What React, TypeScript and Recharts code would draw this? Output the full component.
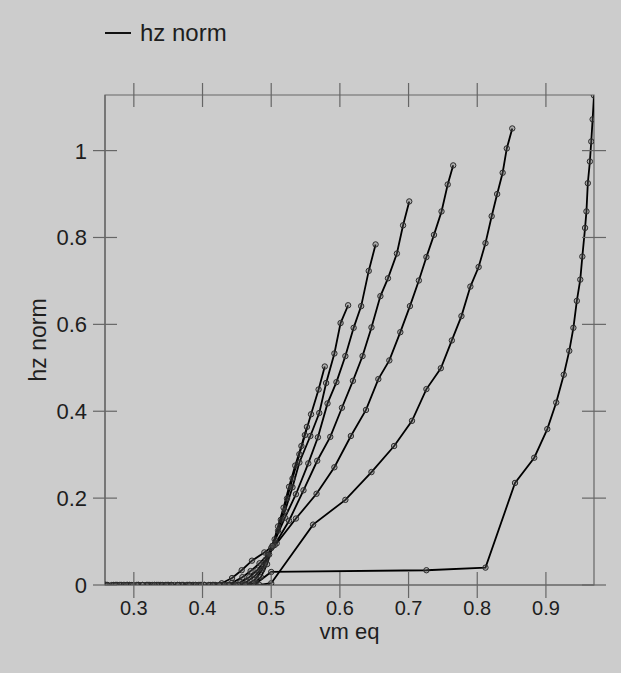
import React from 'react';
import { LineChart, Line, XAxis, YAxis, ReferenceArea } from 'recharts';

// ---------- data ----------
const xTicks = [0.3, 0.4, 0.5, 0.6, 0.7, 0.8, 0.9];
const yTicks = [0, 0.2, 0.4, 0.6, 0.8, 1];
const xDomain = [0.258, 0.97];
const yDomain = [0, 1.128];
const seriesName = 'hz norm';
const xLabel = 'vm eq';
const yLabel = 'hz norm';

const curveA = [
  { x: 0.258, y: 0 }, { x: 0.268, y: 0 }, { x: 0.281, y: 0 }, { x: 0.294, y: 0 }, { x: 0.307, y: 0 },
  { x: 0.32, y: 0 }, { x: 0.333, y: 0 }, { x: 0.346, y: 0 }, { x: 0.359, y: 0 }, { x: 0.372, y: 0 },
  { x: 0.385, y: 0 }, { x: 0.398, y: 0 }, { x: 0.418, y: 0 }, { x: 0.438, y: 0 }, { x: 0.458, y: 0 },
  { x: 0.478, y: 0.004 }, { x: 0.5, y: 0.03 }, { x: 0.726, y: 0.034 }, { x: 0.812, y: 0.04 },
  { x: 0.855, y: 0.235 }, { x: 0.883, y: 0.293 }, { x: 0.902, y: 0.359 }, { x: 0.915, y: 0.42 },
  { x: 0.926, y: 0.484 }, { x: 0.934, y: 0.539 }, { x: 0.94, y: 0.592 }, { x: 0.945, y: 0.654 },
  { x: 0.95, y: 0.703 }, { x: 0.953, y: 0.756 }, { x: 0.957, y: 0.822 }, { x: 0.959, y: 0.86 },
  { x: 0.961, y: 0.925 }, { x: 0.964, y: 0.975 }, { x: 0.966, y: 1.021 }, { x: 0.968, y: 1.072 },
  { x: 0.97, y: 1.127 },
];

const curveB = [
  { x: 0.259, y: 0 }, { x: 0.275, y: 0 }, { x: 0.291, y: 0 }, { x: 0.307, y: 0 }, { x: 0.323, y: 0 },
  { x: 0.339, y: 0 }, { x: 0.355, y: 0 }, { x: 0.371, y: 0 }, { x: 0.387, y: 0 }, { x: 0.403, y: 0 },
  { x: 0.419, y: 0 }, { x: 0.435, y: 0 }, { x: 0.451, y: 0 }, { x: 0.467, y: 0 }, { x: 0.483, y: 0 },
  { x: 0.5, y: 0.004 }, { x: 0.561, y: 0.139 }, { x: 0.608, y: 0.196 }, { x: 0.646, y: 0.26 },
  { x: 0.679, y: 0.32 }, { x: 0.705, y: 0.378 }, { x: 0.726, y: 0.451 }, { x: 0.747, y: 0.499 },
  { x: 0.763, y: 0.563 }, { x: 0.777, y: 0.619 }, { x: 0.79, y: 0.687 }, { x: 0.802, y: 0.732 },
  { x: 0.812, y: 0.787 }, { x: 0.821, y: 0.849 }, { x: 0.829, y: 0.9 }, { x: 0.837, y: 0.949 },
  { x: 0.843, y: 1.005 }, { x: 0.851, y: 1.051 },
];

const curveC = [
  { x: 0.258, y: 0 }, { x: 0.27, y: 0 }, { x: 0.282, y: 0 }, { x: 0.294, y: 0 }, { x: 0.306, y: 0 },
  { x: 0.318, y: 0 }, { x: 0.33, y: 0 }, { x: 0.342, y: 0 }, { x: 0.354, y: 0 }, { x: 0.366, y: 0 },
  { x: 0.378, y: 0 }, { x: 0.39, y: 0 }, { x: 0.402, y: 0 }, { x: 0.414, y: 0 },
  { x: 0.428, y: 0.004 }, { x: 0.443, y: 0.016 }, { x: 0.457, y: 0.034 }, { x: 0.472, y: 0.056 },
  { x: 0.49, y: 0.075 }, { x: 0.508, y: 0.096 }, { x: 0.536, y: 0.153 }, { x: 0.566, y: 0.21 },
  { x: 0.592, y: 0.271 }, { x: 0.616, y: 0.343 }, { x: 0.638, y: 0.403 }, { x: 0.656, y: 0.474 },
  { x: 0.672, y: 0.517 }, { x: 0.688, y: 0.582 }, { x: 0.702, y: 0.642 }, { x: 0.715, y: 0.701 },
  { x: 0.726, y: 0.755 }, { x: 0.737, y: 0.806 }, { x: 0.748, y: 0.86 }, { x: 0.757, y: 0.922 },
  { x: 0.765, y: 0.966 },
];

const curveD = [
  { x: 0.26, y: 0 }, { x: 0.273, y: 0 }, { x: 0.286, y: 0 }, { x: 0.299, y: 0 }, { x: 0.312, y: 0 },
  { x: 0.325, y: 0 }, { x: 0.338, y: 0 }, { x: 0.351, y: 0 }, { x: 0.364, y: 0 }, { x: 0.377, y: 0 },
  { x: 0.39, y: 0 }, { x: 0.403, y: 0 }, { x: 0.416, y: 0 }, { x: 0.429, y: 0 },
  { x: 0.443, y: 0.005 }, { x: 0.458, y: 0.018 }, { x: 0.47, y: 0.032 }, { x: 0.483, y: 0.05 },
  { x: 0.495, y: 0.07 }, { x: 0.505, y: 0.092 }, { x: 0.526, y: 0.148 }, { x: 0.547, y: 0.218 },
  { x: 0.567, y: 0.286 }, { x: 0.586, y: 0.341 }, { x: 0.603, y: 0.408 }, { x: 0.619, y: 0.47 },
  { x: 0.633, y: 0.527 }, { x: 0.646, y: 0.593 }, { x: 0.659, y: 0.665 }, { x: 0.67, y: 0.706 },
  { x: 0.683, y: 0.763 }, { x: 0.692, y: 0.828 }, { x: 0.701, y: 0.883 },
];

const curveE = [
  { x: 0.261, y: 0 }, { x: 0.276, y: 0 }, { x: 0.291, y: 0 }, { x: 0.306, y: 0 }, { x: 0.321, y: 0 },
  { x: 0.336, y: 0 }, { x: 0.351, y: 0 }, { x: 0.366, y: 0 }, { x: 0.381, y: 0 }, { x: 0.396, y: 0 },
  { x: 0.411, y: 0 }, { x: 0.426, y: 0 }, { x: 0.44, y: 0 },
  { x: 0.455, y: 0.006 }, { x: 0.468, y: 0.018 }, { x: 0.48, y: 0.035 }, { x: 0.492, y: 0.058 },
  { x: 0.502, y: 0.09 }, { x: 0.52, y: 0.155 }, { x: 0.536, y: 0.209 }, { x: 0.554, y: 0.28 },
  { x: 0.568, y: 0.34 }, { x: 0.582, y: 0.418 }, { x: 0.595, y: 0.467 }, { x: 0.608, y: 0.527 },
  { x: 0.62, y: 0.592 }, { x: 0.631, y: 0.642 }, { x: 0.642, y: 0.723 }, { x: 0.652, y: 0.784 },
];

const curveF = [
  { x: 0.258, y: 0 }, { x: 0.271, y: 0 }, { x: 0.285, y: 0 }, { x: 0.299, y: 0 }, { x: 0.313, y: 0 },
  { x: 0.327, y: 0 }, { x: 0.341, y: 0 }, { x: 0.355, y: 0 }, { x: 0.369, y: 0 }, { x: 0.383, y: 0 },
  { x: 0.397, y: 0 }, { x: 0.411, y: 0 }, { x: 0.425, y: 0 }, { x: 0.439, y: 0 }, { x: 0.452, y: 0 },
  { x: 0.465, y: 0.008 }, { x: 0.477, y: 0.022 }, { x: 0.489, y: 0.045 }, { x: 0.5, y: 0.085 },
  { x: 0.51, y: 0.125 }, { x: 0.52, y: 0.17 }, { x: 0.531, y: 0.225 }, { x: 0.541, y: 0.282 },
  { x: 0.557, y: 0.343 }, { x: 0.57, y: 0.396 }, { x: 0.58, y: 0.465 }, { x: 0.592, y: 0.533 },
  { x: 0.601, y: 0.603 }, { x: 0.612, y: 0.644 },
];

const curveG = [
  { x: 0.259, y: 0 }, { x: 0.274, y: 0 }, { x: 0.289, y: 0 }, { x: 0.304, y: 0 }, { x: 0.319, y: 0 },
  { x: 0.334, y: 0 }, { x: 0.349, y: 0 }, { x: 0.364, y: 0 }, { x: 0.379, y: 0 }, { x: 0.394, y: 0 },
  { x: 0.409, y: 0 }, { x: 0.424, y: 0 }, { x: 0.438, y: 0 }, { x: 0.452, y: 0 }, { x: 0.464, y: 0 },
  { x: 0.476, y: 0.012 }, { x: 0.487, y: 0.035 }, { x: 0.497, y: 0.07 }, { x: 0.505, y: 0.105 },
  { x: 0.514, y: 0.15 }, { x: 0.523, y: 0.199 }, { x: 0.531, y: 0.245 }, { x: 0.541, y: 0.301 },
  { x: 0.549, y: 0.345 }, { x: 0.558, y: 0.393 }, { x: 0.569, y: 0.45 }, { x: 0.578, y: 0.503 },
];

const curveH = [
  { x: 0.262, y: 0 }, { x: 0.279, y: 0 }, { x: 0.296, y: 0 }, { x: 0.313, y: 0 }, { x: 0.33, y: 0 },
  { x: 0.347, y: 0 }, { x: 0.364, y: 0 }, { x: 0.381, y: 0 }, { x: 0.398, y: 0 }, { x: 0.415, y: 0 },
  { x: 0.432, y: 0 }, { x: 0.448, y: 0 }, { x: 0.462, y: 0 }, { x: 0.474, y: 0.004 },
  { x: 0.485, y: 0.018 }, { x: 0.494, y: 0.048 }, { x: 0.502, y: 0.09 }, { x: 0.51, y: 0.135 },
  { x: 0.518, y: 0.178 }, { x: 0.526, y: 0.226 }, { x: 0.535, y: 0.275 }, { x: 0.544, y: 0.32 },
  { x: 0.552, y: 0.364 },
];

const curves = [curveA, curveB, curveC, curveD, curveE, curveF, curveG, curveH];

// ---------- layout / style ----------
const W = 621;
const H = 673;
const LEFT = 105;
const RIGHT = 594;
const TOP = 95;
const BOTTOM = 585;
const BG = '#cccccc';
const AXIS = '#666666';
const TEXT = '#1e1e1e';
const FONT = '"Liberation Sans", Arial, sans-serif';

const XTick = (props: any) => {
  const { x, payload } = props;
  return (
    <g>
      <line x1={x} x2={x} y1={BOTTOM - 13} y2={BOTTOM + 13} stroke={AXIS} strokeWidth={1.2} />
      <line x1={x} x2={x} y1={TOP - 12} y2={TOP + 12} stroke={AXIS} strokeWidth={1.2} />
      <text x={x} y={BOTTOM + 30} textAnchor="middle" fill={TEXT} fontSize={20} fontFamily={FONT}>
        {String(payload.value)}
      </text>
    </g>
  );
};

const YTick = (props: any) => {
  const { y, payload } = props;
  return (
    <g>
      <line x1={LEFT - 12} x2={LEFT + 12} y1={y} y2={y} stroke={AXIS} strokeWidth={1.2} />
      <line x1={RIGHT - 12} x2={RIGHT + 12} y1={y} y2={y} stroke={AXIS} strokeWidth={1.2} />
      <text x={LEFT - 18} y={y + 8} textAnchor="end" fill={TEXT} fontSize={22} fontFamily={FONT}>
        {String(payload.value)}
      </text>
    </g>
  );
};

const XLabel = () => (
  <text x={(LEFT + RIGHT) / 2} y={639} textAnchor="middle" fill={TEXT} fontSize={22} fontFamily={FONT}>
    {xLabel}
  </text>
);

const YLabel = () => (
  <text
    x={46}
    y={(TOP + BOTTOM) / 2}
    transform={`rotate(-90 46 ${(TOP + BOTTOM) / 2})`}
    textAnchor="middle"
    fill={TEXT}
    fontSize={23}
    fontFamily={FONT}
  >
    {yLabel}
  </text>
);

export default function App() {
  return (
    <div style={{ position: 'absolute', left: 0, top: 0, width: W, height: H, background: BG }}>
      <LineChart
        width={W}
        height={H}
        margin={{ top: TOP, right: W - RIGHT, bottom: 48, left: LEFT - 60 }}
      >
        <XAxis
          type="number"
          dataKey="x"
          domain={xDomain}
          ticks={xTicks}
          allowDataOverflow
          height={40}
          tickLine={false}
          axisLine={{ stroke: AXIS, strokeWidth: 1.2 }}
          tick={<XTick />}
          label={<XLabel />}
          interval={0}
        />
        <YAxis
          type="number"
          dataKey="y"
          domain={yDomain}
          ticks={yTicks}
          allowDataOverflow
          width={60}
          tickLine={false}
          axisLine={{ stroke: AXIS, strokeWidth: 1.2 }}
          tick={<YTick />}
          label={<YLabel />}
          interval={0}
        />
        <ReferenceArea
          x1={xDomain[0]}
          x2={xDomain[1]}
          y1={yDomain[0]}
          y2={yDomain[1]}
          fill="none"
          fillOpacity={0}
          stroke={AXIS}
          strokeWidth={1.2}
          ifOverflow="extendDomain"
        />
        {curves.map((c, i) => (
          <Line
            key={i}
            data={c}
            dataKey="y"
            type="linear"
            stroke="#000000"
            strokeWidth={1.8}
            dot={{ r: 2.7, stroke: '#2a2a2a', strokeWidth: 1, fill: 'rgba(110,110,110,0.3)' }}
            activeDot={false}
            isAnimationActive={false}
            name={seriesName}
          />
        ))}
      </LineChart>
      <div
        style={{
          position: 'absolute',
          left: 105,
          top: 19,
          display: 'flex',
          alignItems: 'center',
          fontFamily: FONT,
          fontSize: 24,
          color: TEXT,
        }}
      >
        <span style={{ display: 'inline-block', width: 26, height: 0, borderTop: '2px solid #111', marginRight: 9 }} />
        <span>{seriesName}</span>
      </div>
    </div>
  );
}
